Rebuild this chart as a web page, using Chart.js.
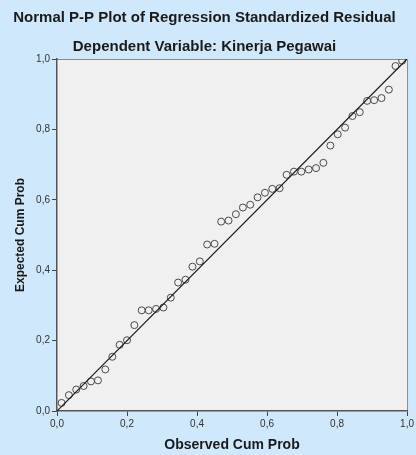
<!DOCTYPE html>
<html>
<head>
<meta charset="utf-8">
<script src="https://cdn.jsdelivr.net/npm/chart.js@4/dist/chart.umd.min.js"></script>
<style>
  html, body { margin: 0; padding: 0; background: #cfe8fb; }
  canvas { display: block; }
</style>
</head>
<body>
<canvas id="ppPlot" width="416" height="455"></canvas>
<script>
// values
const observedProb = [
  0.013, 0.034, 0.055, 0.076, 0.097, 0.117, 0.138, 0.158, 0.179, 0.200,
  0.221, 0.242, 0.262, 0.283, 0.304, 0.325, 0.346, 0.367, 0.387, 0.408,
  0.429, 0.450, 0.469, 0.490, 0.511, 0.531, 0.552, 0.573, 0.594, 0.615,
  0.636, 0.656, 0.677, 0.698, 0.719, 0.740, 0.761, 0.781, 0.802, 0.823,
  0.844, 0.865, 0.886, 0.906, 0.927, 0.948, 0.967, 0.986
];
const expectedProb = [
  0.023, 0.045, 0.061, 0.071, 0.084, 0.087, 0.118, 0.154, 0.188, 0.201,
  0.244, 0.286, 0.286, 0.290, 0.294, 0.322, 0.365, 0.373, 0.410, 0.425,
  0.473, 0.475, 0.538, 0.541, 0.559, 0.578, 0.586, 0.607, 0.620, 0.631,
  0.633, 0.671, 0.680, 0.680, 0.686, 0.690, 0.705, 0.754, 0.786, 0.805,
  0.838, 0.849, 0.881, 0.883, 0.889, 0.913, 0.980, 0.995
];
const diagonal = [0, 1];
const tickValues = [0, 0.2, 0.4, 0.6, 0.8, 1.0];
const tickLabels = ['0,0', '0,2', '0,4', '0,6', '0,8', '1,0'];

const points = observedProb.map((x, i) => ({ x: x, y: expectedProb[i] }));
const linePoints = diagonal.map(v => ({ x: v, y: v }));

function tickLabel(value) {
    const idx = tickValues.findIndex(t => Math.abs(t - value) < 1e-6);
    return idx >= 0 ? tickLabels[idx] : '';
}

const plotBackground = {
    id: 'plotBackground',
    beforeDraw(chart) {
        const ctx = chart.ctx;
        const a = chart.chartArea;
        ctx.save();
        ctx.fillStyle = '#cfe8fb';
        ctx.fillRect(0, 0, chart.width, chart.height);
        ctx.fillStyle = '#f0f0f0';
        ctx.fillRect(a.left, a.top, a.right - a.left, a.bottom - a.top);
        ctx.strokeStyle = '#8a8a8a';
        ctx.lineWidth = 1;
        ctx.beginPath();
        ctx.moveTo(a.left, a.top + 0.5);
        ctx.lineTo(a.right + 0.5, a.top + 0.5);
        ctx.lineTo(a.right + 0.5, a.bottom);
        ctx.stroke();
        ctx.restore();
    }
};

const axisFont = { family: 'Liberation Sans, Arial, sans-serif', size: 10 };
const titleFont = { family: 'Liberation Sans, Arial, sans-serif', size: 15, weight: 'bold' };
const xTitleFont = { family: 'Liberation Sans, Arial, sans-serif', size: 14, weight: 'bold' };
const yTitleFont = { family: 'Liberation Sans, Arial, sans-serif', size: 12, weight: 'bold' };

new Chart(document.getElementById('ppPlot'), {
    type: 'scatter',
    data: {
        datasets: [{
            type: 'line',
            data: linePoints,
            borderColor: '#1a1a1a',
            borderWidth: 1.2,
            pointRadius: 0,
            fill: false
        }, {
            data: points,
            pointStyle: 'circle',
            pointRadius: 3.5,
            pointHoverRadius: 3.5,
            backgroundColor: 'rgba(0,0,0,0)',
            borderColor: '#4a4a4a',
            borderWidth: 1
        }]
    },
    options: {
        responsive: false,
        devicePixelRatio: 1,
        animation: false,
        layout: { padding: { left: 0, right: 7, top: 0, bottom: 0 } },
        plugins: {
            legend: { display: false },
            tooltip: { enabled: false },
            title: {
                display: true,
                text: 'Normal P-P Plot of Regression Standardized Residual',
                color: '#1a1a1a',
                font: titleFont,
                padding: { top: 9, bottom: 2 }
            },
            subtitle: {
                display: true,
                text: 'Dependent Variable: Kinerja Pegawai',
                color: '#1a1a1a',
                font: titleFont,
                padding: { top: 9, bottom: 3 }
            }
        },
        scales: {
            x: {
                type: 'linear',
                min: 0,
                max: 1,
                afterFit: scale => { scale.height = 44; },
                afterBuildTicks: scale => { scale.ticks = tickValues.map(v => ({ value: v })); },
                grid: { drawOnChartArea: false, drawTicks: true, tickLength: 5, color: '#444' },
                border: { display: true, color: '#555', width: 1.5 },
                ticks: {
                    padding: 2,
                    color: '#333',
                    font: axisFont,
                    maxRotation: 0,
                    callback: v => tickLabel(v)
                },
                title: {
                    display: true,
                    text: 'Observed Cum Prob',
                    color: '#1a1a1a',
                    font: xTitleFont,
                    padding: { top: 0, bottom: 1.6 }
                }
            },
            y: {
                type: 'linear',
                min: 0,
                max: 1,
                afterFit: scale => { scale.width = 57; },
                afterBuildTicks: scale => { scale.ticks = tickValues.map(v => ({ value: v })); },
                grid: { drawOnChartArea: false, drawTicks: true, tickLength: 5, color: '#444' },
                border: { display: true, color: '#555', width: 1.5 },
                ticks: {
                    padding: 2,
                    color: '#333',
                    font: axisFont,
                    callback: v => tickLabel(v)
                },
                title: {
                    display: true,
                    text: 'Expected Cum Prob',
                    color: '#1a1a1a',
                    font: yTitleFont,
                    padding: { top: 13, bottom: 0 }
                }
            }
        }
    },
    plugins: [plotBackground]
});
</script>
</body>
</html>
